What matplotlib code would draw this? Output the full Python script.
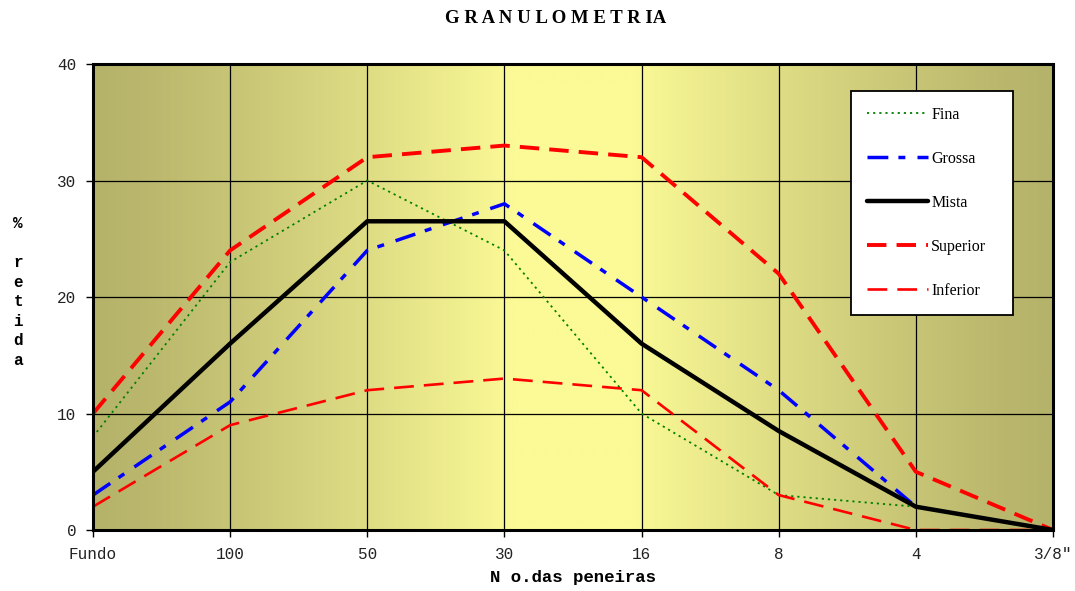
import numpy as np
import matplotlib
matplotlib.use("Agg")
import matplotlib.pyplot as plt
from matplotlib.colors import LinearSegmentedColormap

# sieve numbers and % retained
peneiras = ["Fundo", "100", "50", "30", "16", "8", "4", '3/8"']
fina = [8, 23, 30, 24, 10, 3, 2, None]
grossa = [3, 11, 24, 28, 20, 12, 2, None]
mista = [5, 16, 26.5, 26.5, 16, 8.5, 2, 0]
superior = [10, 24, 32, 33, 32, 22, 5, 0]
inferior = [2, 9, 12, 13, 12, 3, 0, 0]

x = np.arange(len(peneiras))


def arr(v):
    return np.array([np.nan if a is None else a for a in v], dtype=float)


fig = plt.figure(figsize=(10.75, 5.91), dpi=100)
ax = fig.add_axes([0.0865, 0.1032, 0.893, 0.7885])

# background gradient: olive at the edges, light yellow in the middle
cmap = LinearSegmentedColormap.from_list(
    "bg", [(181/255, 178/255, 106/255), (251/255, 250/255, 150/255)])
t = np.linspace(-1, 1, 400)
g = np.clip(1 - (np.abs(t) - 0.12) / 0.88, 0, 1) ** 1.2
ax.imshow(g[np.newaxis, :], aspect="auto", cmap=cmap, vmin=0, vmax=1,
          extent=(0, len(peneiras) - 1, 0, 40), zorder=0)

ax.plot(x, arr(fina), color="#008000", lw=1.3, linestyle=(0, (1.2, 2.2)),
        label="Fina", zorder=3)
ax.plot(x, arr(grossa), color="#0000ff", lw=2.5, linestyle=(0, (6, 2.9, 2, 3.5)),
        label="Grossa", zorder=3)
ax.plot(x, mista, color="black", lw=3.2, solid_capstyle="round",
        label="Mista", zorder=4)
ax.plot(x, superior, color="#ff0000", lw=2.8, linestyle=(0, (5, 2.6)),
        label="Superior", zorder=3)
ax.plot(x, inferior, color="#ff0000", lw=1.9, linestyle=(0, (7.5, 3.8)),
        label="Inferior", zorder=3)

ax.set_xlim(0, len(peneiras) - 1)
ax.set_ylim(0, 40)
ax.set_xticks(x)
ax.set_xticklabels(peneiras, family="Liberation Mono", fontsize=11.5)
ax.set_yticks([0, 10, 20, 30, 40])
ax.set_yticklabels(["0", "10", "20", "30", "40"], family="Liberation Mono",
                   fontsize=11.5)
ax.tick_params(direction="out", length=5, width=1, colors="black",
               labelcolor="#222222", pad=7)
ax.grid(True, color="black", lw=0.9, zorder=1)
ax.set_axisbelow(False)
for s in ax.spines.values():
    s.set_linewidth(2.2)
    s.set_zorder(5)

leg = ax.legend(loc="upper left", bbox_to_anchor=(0.79, 0.942, 0.168, 0.0),
                mode="expand", frameon=True, fancybox=False, shadow=False,
                prop={"family": "Liberation Serif", "size": 11.5},
                labelspacing=1.75, handlelength=3.8, handletextpad=0.2,
                borderpad=1.0, borderaxespad=0)
leg.get_frame().set_edgecolor("black")
leg.get_frame().set_linewidth(1.3)
leg.get_frame().set_facecolor("white")
leg.get_frame().set_alpha(1)
leg.set_zorder(6)

fig.text(0.517, 0.968, "G R A N U L O M E T R IA", ha="center", va="center",
         family="Liberation Serif", weight="bold", fontsize=13.5)
ax.set_xlabel("N o.das peneiras", family="Liberation Mono", weight="bold",
              fontsize=12.5, labelpad=6)
fig.text(0.017, 0.506, "%\n\nr\ne\nt\ni\nd\na", ha="center", va="center",
         family="Liberation Mono", weight="bold", fontsize=11.5, linespacing=1.38)

fig.savefig("out.png", dpi=100)
